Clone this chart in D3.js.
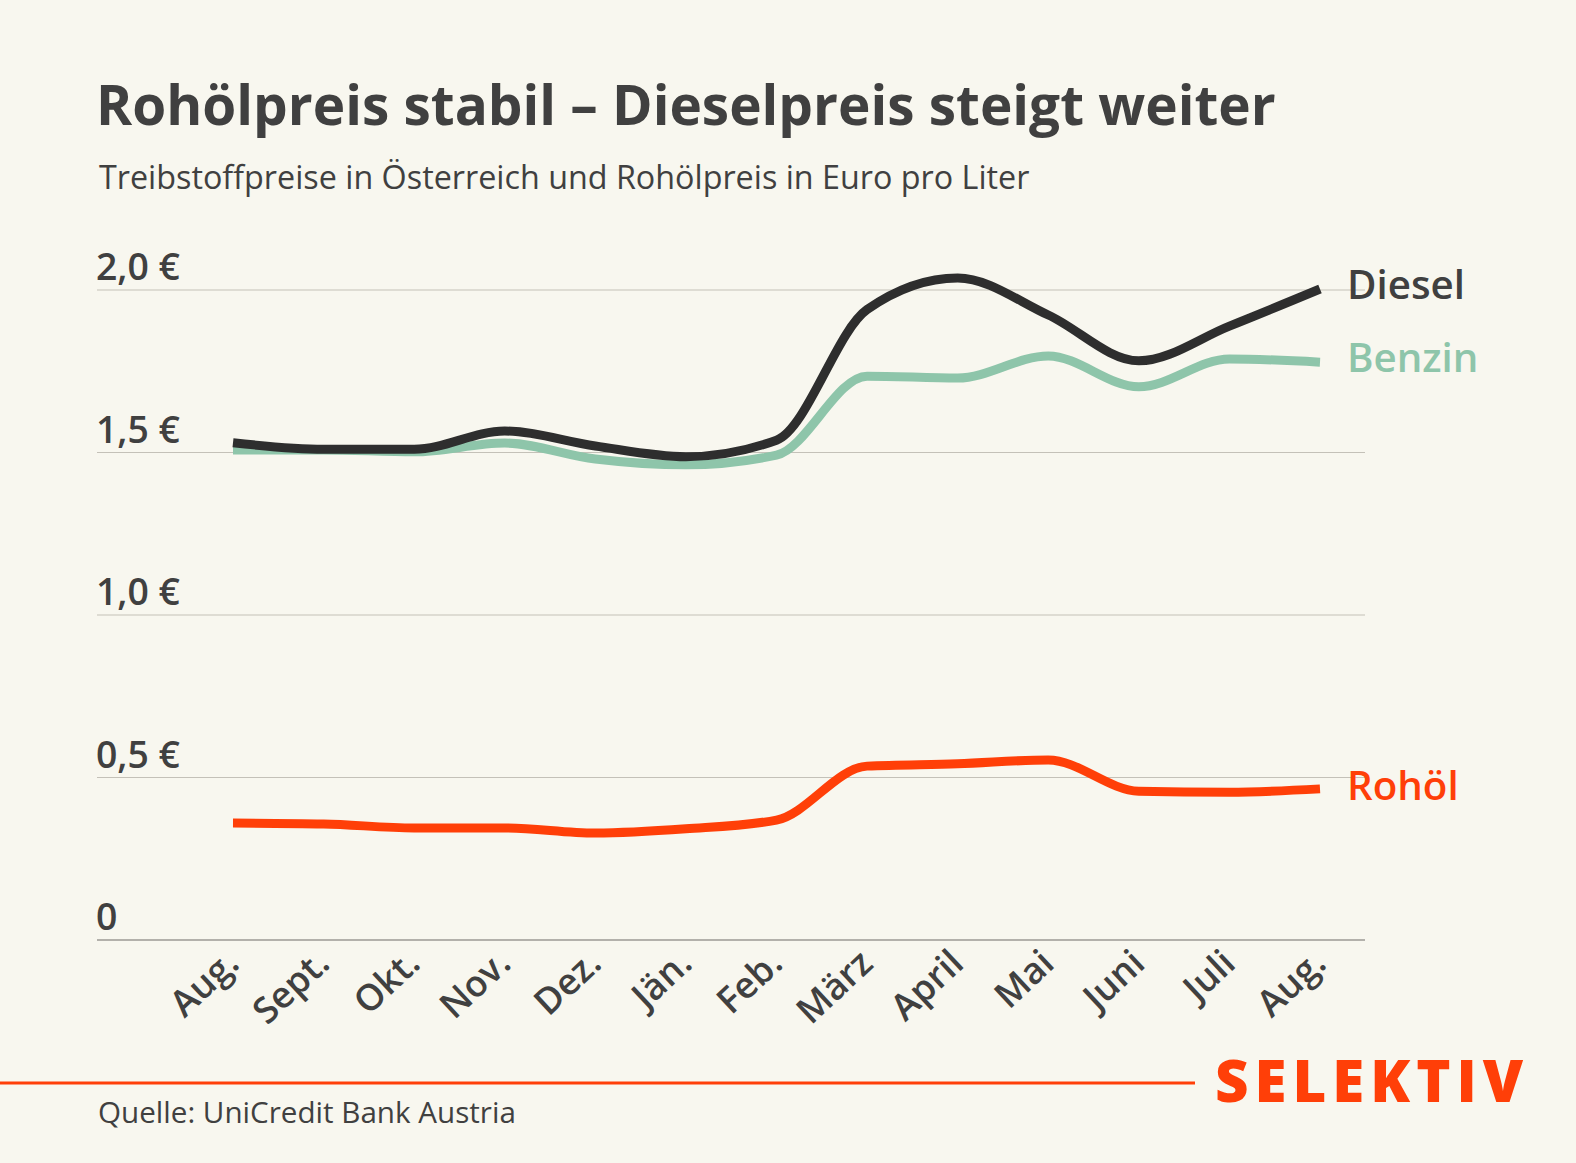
<!DOCTYPE html>
<html>
<head>
<meta charset="utf-8">
<script src="https://cdn.jsdelivr.net/npm/d3@7"></script>
<style>
  html, body { margin: 0; padding: 0; background: #f8f7ef; }
  svg { display: block; font-family: "Open Sans", Lato, sans-serif; }
</style>
</head>
<body>
<script>
// months, Aug. to Aug.
const months = ["Aug.", "Sept.", "Okt.", "Nov.", "Dez.", "Jän.", "Feb.", "März", "April", "Mai", "Juni", "Juli", "Aug."];
const diesel = [1.53, 1.51, 1.51, 1.566, 1.52, 1.487, 1.538, 1.94, 2.037, 1.923, 1.782, 1.889, 2.003];
const benzin = [1.508, 1.508, 1.502, 1.529, 1.48, 1.462, 1.492, 1.735, 1.729, 1.797, 1.702, 1.788, 1.778];
const rohoel = [0.36, 0.357, 0.345, 0.345, 0.329, 0.342, 0.369, 0.535, 0.542, 0.554, 0.458, 0.455, 0.465];
const yTicks = [0, 0.5, 1.0, 1.5, 2.0];
const yTickLabels = ["0", "0,5 €", "1,0 €", "1,5 €", "2,0 €"];

const width = 1576, height = 1163;
const ink = "#404040";
const orange = "#ff3f08";

const series = [
  { name: "Diesel", values: diesel, color: "#2e2e2e", labelDy: -5 },
  { name: "Benzin", values: benzin, color: "#8ec5aa", labelDy: -5 },
  { name: "Rohöl", values: rohoel, color: orange, labelDy: -3 }
];

const svg = d3.select("body").append("svg")
  .attr("width", width)
  .attr("height", height);

svg.append("rect").attr("width", width).attr("height", height).attr("fill", "#f8f7ef");

// scale font size so a text gets the wanted width
function fit(sel, w) {
  var size = parseFloat(sel.style("font-size"));
  var len = sel.node().getComputedTextLength();
  var s = size * w / len;
  sel.style("font-size", s + "px");
  return s;
}

// titles
fit(svg.append("text")
  .attr("x", 96).attr("y", 125)
  .attr("fill", ink)
  .style("font-size", "50px").style("font-weight", 700)
  .text("Rohölpreis stabil – Dieselpreis steigt weiter"), 1180);

fit(svg.append("text")
  .attr("x", 99).attr("y", 189)
  .attr("fill", ink)
  .style("font-size", "30px")
  .text("Treibstoffpreise in Österreich und Rohölpreis in Euro pro Liter"), 931);

var x = d3.scalePoint().domain(d3.range(months.length)).range([233, 1320]);
var y = d3.scaleLinear().domain([0, 2]).range([940, 290]);

// grid
svg.append("g").selectAll("line")
  .data(yTicks)
  .enter().append("line")
  .attr("x1", 97).attr("x2", 1365)
  .attr("y1", d => y(d)).attr("y2", d => y(d))
  .attr("stroke", d => d === 0 ? "#9c9a94" : "#c4c1b8")
  .attr("stroke-width", d => d === 0 ? 1.6 : 1.2);

var tickLabels = svg.append("g").selectAll("text")
  .data(yTicks)
  .enter().append("text")
  .attr("x", 96).attr("y", d => y(d) - 10)
  .attr("fill", ink)
  .style("font-size", "30px").style("font-weight", 600)
  .text((d, i) => yTickLabels[i]);
var tickSize = fit(d3.select(tickLabels.nodes()[4]), 84);
tickLabels.style("font-size", tickSize + "px");

// x labels
var monthLabels = svg.append("g").selectAll("text")
  .data(months)
  .enter().append("text")
  .attr("transform", (d, i) => "translate(" + (x(i) + 8) + ",966) rotate(-43)")
  .attr("text-anchor", "end")
  .attr("fill", ink)
  .style("font-size", "28px").style("font-weight", 600)
  .text(d => d);
var monthSize = fit(d3.select(monthLabels.nodes()[1]), 88);
monthLabels.style("font-size", monthSize + "px");

// lines
var line = d3.line()
  .x((d, i) => x(i))
  .y(d => y(d))
  .curve(d3.curveMonotoneX);

svg.append("g").selectAll("path")
  .data(series.slice().reverse())
  .enter().append("path")
  .attr("d", d => line(d.values))
  .attr("fill", "none")
  .attr("stroke", d => d.color)
  .attr("stroke-width", 9);

var seriesLabels = svg.append("g").selectAll("text")
  .data(series)
  .enter().append("text")
  .attr("x", 1347)
  .attr("y", d => y(d.values[d.values.length - 1]) + d.labelDy)
  .attr("dy", "0.36em")
  .attr("fill", d => d.name === "Diesel" ? ink : d.color)
  .style("font-size", "38px").style("font-weight", 600)
  .text(d => d.name);
var seriesSize = fit(d3.select(seriesLabels.nodes()[0]), 118);
seriesLabels.style("font-size", seriesSize + "px");

// footer
svg.append("line")
  .attr("x1", 0).attr("x2", 1195)
  .attr("y1", 1083).attr("y2", 1083)
  .attr("stroke", orange).attr("stroke-width", 3);

var logo = svg.append("text")
  .attr("x", 1215).attr("y", 1102)
  .attr("fill", orange)
  .style("font-size", "52px").style("font-weight", 800)
  .style("letter-spacing", "6px")
  .text("SELEKTIV");
fit(logo, 320);

fit(svg.append("text")
  .attr("x", 98).attr("y", 1123)
  .attr("fill", ink)
  .style("font-size", "28px")
  .text("Quelle: UniCredit Bank Austria"), 418);
</script>
</body>
</html>
